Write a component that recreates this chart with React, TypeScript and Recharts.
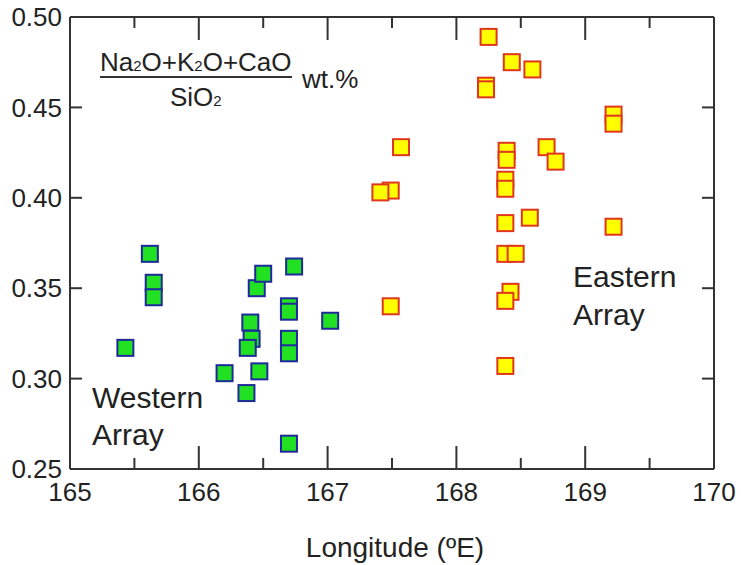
import { ScatterChart, Scatter, XAxis, YAxis, ReferenceLine } from "recharts"

// longitude (ºE) and (Na2O+K2O+CaO)/SiO2
const westernLon = [165.62, 165.65, 165.65, 165.43, 166.2, 166.37, 166.47, 166.45, 166.5, 166.4, 166.41, 166.38, 166.74, 166.7, 166.7, 166.7, 166.7, 166.7, 167.02]
const westernRatio = [0.369, 0.353, 0.345, 0.317, 0.303, 0.292, 0.304, 0.35, 0.358, 0.331, 0.322, 0.317, 0.362, 0.34, 0.337, 0.322, 0.314, 0.264, 0.332]

const easternLon = [168.25, 168.43, 168.59, 168.23, 168.23, 169.22, 169.22, 167.57, 168.39, 168.39, 168.7, 168.77, 168.38, 168.38, 167.49, 167.41, 168.38, 168.57, 169.22, 168.38, 168.46, 167.49, 168.42, 168.38, 168.38]
const easternRatio = [0.489, 0.475, 0.471, 0.462, 0.46, 0.446, 0.441, 0.428, 0.426, 0.421, 0.428, 0.42, 0.41, 0.405, 0.404, 0.403, 0.386, 0.389, 0.384, 0.369, 0.369, 0.34, 0.348, 0.343, 0.307]

const xTicks = [165, 166, 167, 168, 169, 170]
const xMajorInner = [166, 167, 168, 169]
const xMinor = [165.5, 166.5, 167.5, 168.5, 169.5]
const yTicks = [0.25, 0.3, 0.35, 0.4, 0.45, 0.5]
const yInner = [0.3, 0.35, 0.4, 0.45]

const western = westernLon.map((x, i) => ({ x, y: westernRatio[i] }))
const eastern = easternLon.map((x, i) => ({ x, y: easternRatio[i] }))

const font = "'Liberation Sans', Arial, sans-serif"
const ink = "#333"

function square(fill: string, stroke: string) {
  return (props: any) => (
    <rect x={props.cx - 8} y={props.cy - 8} width={16} height={16} fill={fill} stroke={stroke} strokeWidth={2} />
  )
}

export default function App() {
  return (
    <div style={{ position: "absolute", left: 0, top: 0, width: 741, height: 565, background: "#fff", fontFamily: font, color: "#222" }}>
      <ScatterChart width={741} height={565} margin={{ top: 17, right: 27, left: 0, bottom: 0 }}>
        <XAxis
          dataKey="x"
          type="number"
          domain={[165, 170]}
          ticks={xTicks}
          allowDataOverflow
          height={96}
          tickLine={false}
          tickSize={0}
          tickMargin={14}
          axisLine={{ stroke: ink, strokeWidth: 2 }}
          tick={{ fontSize: 26, fill: "#222", fontFamily: font }}
        />
        <YAxis
          dataKey="y"
          type="number"
          domain={[0.25, 0.5]}
          ticks={yTicks}
          allowDataOverflow
          width={70}
          tickLine={false}
          tickSize={0}
          tickMargin={8}
          axisLine={{ stroke: ink, strokeWidth: 2 }}
          tickFormatter={(v: number) => v.toFixed(2)}
          tick={{ fontSize: 26, fill: "#222", fontFamily: font }}
        />
        <ReferenceLine y={0.5} stroke={ink} strokeWidth={2} />
        <ReferenceLine x={170} stroke={ink} strokeWidth={2} />
        {xMajorInner.map((t) => (
          <ReferenceLine key={"bM" + t} segment={[{ x: t, y: 0.25 }, { x: t, y: 0.2627 }]} stroke={ink} strokeWidth={2} />
        ))}
        {xMajorInner.map((t) => (
          <ReferenceLine key={"tM" + t} segment={[{ x: t, y: 0.5 }, { x: t, y: 0.4873 }]} stroke={ink} strokeWidth={2} />
        ))}
        {xMinor.map((t) => (
          <ReferenceLine key={"bm" + t} segment={[{ x: t, y: 0.25 }, { x: t, y: 0.2561 }]} stroke={ink} strokeWidth={2} />
        ))}
        {xMinor.map((t) => (
          <ReferenceLine key={"tm" + t} segment={[{ x: t, y: 0.5 }, { x: t, y: 0.4939 }]} stroke={ink} strokeWidth={2} />
        ))}
        {yInner.map((t) => (
          <ReferenceLine key={"l" + t} segment={[{ x: 165, y: t }, { x: 165.093, y: t }]} stroke={ink} strokeWidth={2} />
        ))}
        {yInner.map((t) => (
          <ReferenceLine key={"r" + t} segment={[{ x: 170, y: t }, { x: 169.907, y: t }]} stroke={ink} strokeWidth={2} />
        ))}
        <Scatter data={western} shape={square("#22e022", "#1f2a9a")} isAnimationActive={false} />
        <Scatter data={eastern} shape={square("#ffff00", "#e0361c")} isAnimationActive={false} />
      </ScatterChart>

      {/* oxide ratio annotation */}
      <div style={{ position: "absolute", left: 100, top: 49, fontSize: 26, lineHeight: 1 }}>
        <div style={{ borderBottom: "2px solid #333", paddingBottom: 1, whiteSpace: "nowrap" }}>
          Na<span style={{ fontSize: 15 }}>2</span>O+K<span style={{ fontSize: 15 }}>2</span>O+CaO
        </div>
        <div style={{ textAlign: "center", marginTop: 6 }}>
          SiO<span style={{ fontSize: 15 }}>2</span>
        </div>
      </div>
      <div style={{ position: "absolute", left: 302, top: 66, fontSize: 26, lineHeight: 1 }}>wt.%</div>

      <div style={{ position: "absolute", left: 92, top: 379, fontSize: 30, lineHeight: "37px" }}>
        Western<br />Array
      </div>
      <div style={{ position: "absolute", left: 573, top: 258, fontSize: 30, lineHeight: "38px" }}>
        Eastern<br />Array
      </div>

      <div style={{ position: "absolute", left: 245, width: 300, top: 534, fontSize: 28, lineHeight: 1, textAlign: "center" }}>
        Longitude (ºE)
      </div>
    </div>
  )
}
